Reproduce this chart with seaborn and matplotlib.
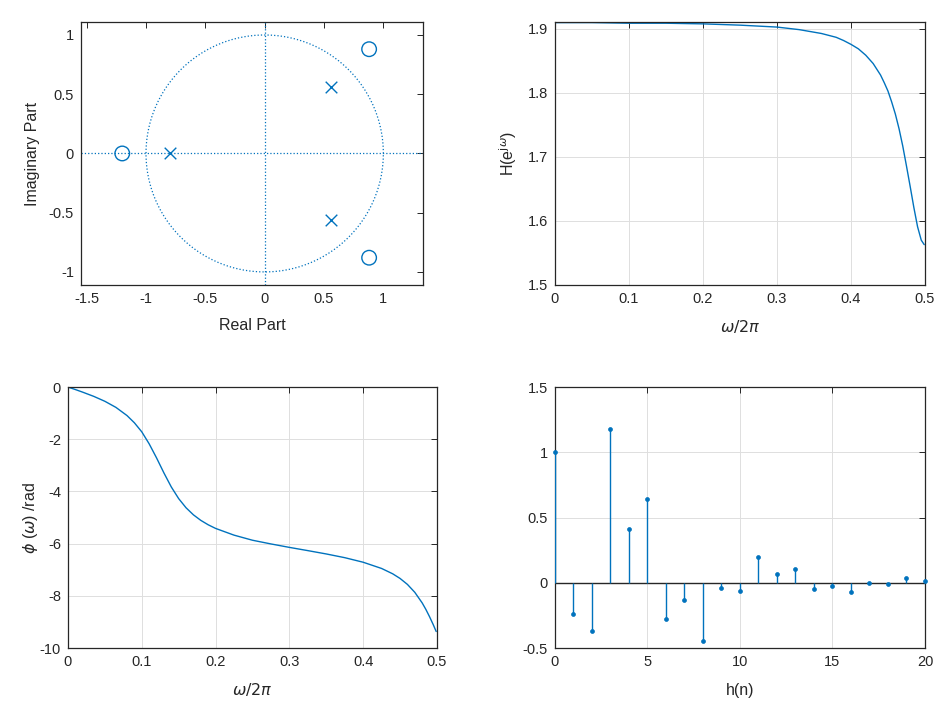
import numpy as np
import seaborn as sns
import matplotlib.pyplot as plt

# pole-zero positions
zeros_re = [-1.2, 0.88, 0.88]
zeros_im = [0.0, 0.88, -0.88]
poles_re = [-0.8, 0.56, 0.56]
poles_im = [0.0, 0.56, -0.56]

# magnitude response |H(e^jw)| vs w/2pi
freq_mag = [0.0, 0.05, 0.10, 0.15, 0.20, 0.25, 0.30, 0.33, 0.35, 0.36, 0.37, 0.38, 0.39,
            0.40, 0.41, 0.42, 0.43, 0.44, 0.445, 0.45, 0.455, 0.46, 0.465, 0.47,
            0.475, 0.48, 0.485, 0.49, 0.495, 0.499]
mag = [1.910, 1.910, 1.909, 1.909, 1.908, 1.906, 1.903, 1.899, 1.895, 1.893, 1.890, 1.887,
       1.882, 1.876, 1.869, 1.859, 1.846, 1.828, 1.816, 1.803, 1.786, 1.767, 1.744,
       1.717, 1.686, 1.654, 1.621, 1.591, 1.570, 1.563]

# phase response (rad) vs w/2pi
freq_ph = [0.0, 0.01, 0.02, 0.035, 0.05, 0.065, 0.08, 0.09, 0.10, 0.11, 0.12, 0.13,
           0.14, 0.15, 0.16, 0.17, 0.18, 0.19, 0.20, 0.225, 0.25, 0.275, 0.30, 0.325,
           0.35, 0.375, 0.40, 0.425, 0.44, 0.45, 0.46, 0.47, 0.48, 0.485, 0.49,
           0.495, 0.499]
phase = [0.0, -0.095, -0.196, -0.357, -0.545, -0.779, -1.092, -1.369, -1.715, -2.174,
         -2.712, -3.289, -3.827, -4.274, -4.625, -4.896, -5.108, -5.277, -5.416,
         -5.674, -5.869, -6.011, -6.143, -6.267, -6.395, -6.537, -6.712, -6.951,
         -7.155, -7.333, -7.562, -7.865, -8.271, -8.520, -8.800, -9.105, -9.367]

# impulse response h(n)
n = list(range(21))
h = [1.0, -0.236, -0.368, 1.178, 0.414, 0.640, -0.279, -0.132, -0.444, -0.041,
     -0.061, 0.198, 0.071, 0.109, -0.048, -0.023, -0.074, -0.005, -0.010, 0.036, 0.013]

sns.set_theme(style="white")
plt.rcParams['font.family'] = ['Liberation Sans', 'DejaVu Sans']
plt.rcParams['axes.unicode_minus'] = False
plt.rcParams['mathtext.fontset'] = 'dejavusans'

blue = '#0072BD'
dark = '#262626'
gridc = '#DEDEDE'


def style(ax, xt, xl, yt, yl, grid=True):
    ax.set_xticks(xt)
    ax.set_xticklabels(xl)
    ax.set_yticks(yt)
    ax.set_yticklabels(yl)
    ax.tick_params(direction='in', top=True, right=True, length=4, width=0.7,
                   colors=dark, labelsize=10.5, pad=5)
    for s in ax.spines.values():
        s.set_color(dark)
        s.set_linewidth(0.9)
    if grid:
        ax.grid(True, color=gridc, lw=0.7)
        ax.set_axisbelow(True)


fig = plt.figure(figsize=(9.48, 7.08), dpi=100)
ax1 = fig.add_axes([0.0854, 0.5975, 0.3608, 0.3715])
ax2 = fig.add_axes([0.5854, 0.5975, 0.3903, 0.3715])
ax3 = fig.add_axes([0.0717, 0.0847, 0.3892, 0.3686])
ax4 = fig.add_axes([0.5854, 0.0847, 0.3903, 0.3686])

# zplane
t = np.linspace(0, 2 * np.pi, 400)
ax1.plot(np.cos(t), np.sin(t), ':', color=blue, lw=0.9)
ax1.axhline(0, ls=':', color=blue, lw=0.9)
ax1.axvline(0, ls=':', color=blue, lw=0.9)
sns.scatterplot(x=zeros_re, y=zeros_im, ax=ax1, marker='o', s=110,
                facecolors='none', edgecolor=blue, linewidth=1.0, zorder=3)
sns.scatterplot(x=poles_re, y=poles_im, ax=ax1, marker='x', s=70,
                color=blue, linewidth=1.0, zorder=3)
ax1.set_xlim(-1.548, 1.334)
ax1.set_ylim(-1.11, 1.11)
style(ax1, [-1.5, -1, -0.5, 0, 0.5, 1], ['-1.5', '-1', '-0.5', '0', '0.5', '1'],
      [-1, -0.5, 0, 0.5, 1], ['-1', '-0.5', '0', '0.5', '1'], grid=False)
ax1.set_xlabel('Real Part', fontsize=11.5, color=dark, labelpad=9)
ax1.set_ylabel('Imaginary Part', fontsize=11.5, color=dark, labelpad=6)

# magnitude
sns.lineplot(x=freq_mag, y=mag, ax=ax2, color=blue, lw=1.0)
ax2.set_xlim(0, 0.5)
ax2.set_ylim(1.5, 1.911)
style(ax2, [0, 0.1, 0.2, 0.3, 0.4, 0.5], ['0', '0.1', '0.2', '0.3', '0.4', '0.5'],
      [1.5, 1.6, 1.7, 1.8, 1.9], ['1.5', '1.6', '1.7', '1.8', '1.9'])
ax2.set_xlabel(r'$\omega/2\pi$', fontsize=11.5, color=dark, labelpad=9)
ax2.set_ylabel(r'H(e$^{\mathrm{j}\omega}$)', fontsize=11.5, color=dark, labelpad=6)

# phase
sns.lineplot(x=freq_ph, y=phase, ax=ax3, color=blue, lw=1.0)
ax3.set_xlim(0, 0.5)
ax3.set_ylim(-10, 0)
style(ax3, [0, 0.1, 0.2, 0.3, 0.4, 0.5], ['0', '0.1', '0.2', '0.3', '0.4', '0.5'],
      [-10, -8, -6, -4, -2, 0], ['-10', '-8', '-6', '-4', '-2', '0'])
ax3.set_xlabel(r'$\omega/2\pi$', fontsize=11.5, color=dark, labelpad=9)
ax3.set_ylabel(r'$\phi$ ($\omega$) /rad', fontsize=11.5, color=dark, labelpad=0)

# impulse response
ax4.axhline(0, color=dark, lw=1.0, zorder=2)
ax4.vlines(n, 0, h, color=blue, lw=1.0, zorder=3)
sns.scatterplot(x=n, y=h, ax=ax4, s=8, color=blue, edgecolor=blue,
                linewidth=0.5, zorder=4, clip_on=False)
ax4.set_xlim(0, 20)
ax4.set_ylim(-0.5, 1.5)
style(ax4, [0, 5, 10, 15, 20], ['0', '5', '10', '15', '20'],
      [-0.5, 0, 0.5, 1, 1.5], ['-0.5', '0', '0.5', '1', '1.5'])
ax4.set_xlabel('h(n)', fontsize=11.5, color=dark, labelpad=10)

fig.savefig('out.png', dpi=100, facecolor='white')
